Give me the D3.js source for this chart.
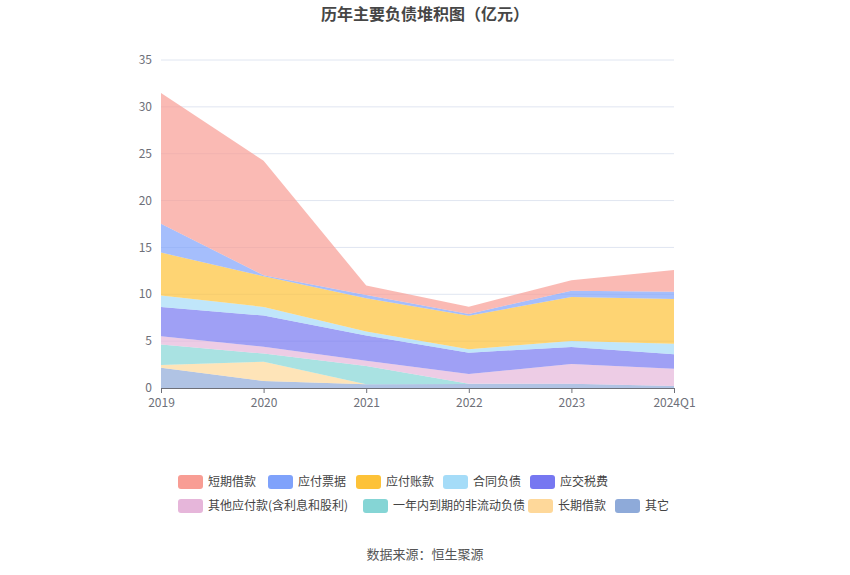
<!DOCTYPE html>
<html lang="zh">
<head>
<meta charset="UTF-8">
<title>历年主要负债堆积图</title>
<script src="https://d3js.org/d3.v7.min.js"></script>
<style>
    body { margin: 0; background: #fff; }
    svg { font-family: "Noto Sans CJK SC", "Noto Sans", sans-serif; }
</style>
</head>
<body>
<svg id="chart" width="850" height="575"></svg>
<script>
    // categories (x axis)
    const periods = ["2019", "2020", "2021", "2022", "2023", "2024Q1"];

    // series, bottom of the stack first
    const seriesNames = ["其它", "长期借款", "一年内到期的非流动负债", "其他应付款(含利息和股利)",
        "应交税费", "合同负债", "应付账款", "应付票据", "短期借款"];
    const other        = [2.17, 0.75, 0.39, 0.43, 0.45, 0.21];
    const longLoan     = [0.29, 2.06, 0.00, 0.00, 0.00, 0.00];
    const currentDue   = [2.17, 0.86, 1.96, 0.02, 0.00, 0.00];
    const otherPayable = [0.89, 0.74, 0.57, 1.04, 2.11, 1.85];
    const taxPayable   = [3.13, 3.32, 2.67, 2.28, 1.82, 1.53];
    const contractLiab = [1.21, 0.92, 0.43, 0.36, 0.64, 1.14];
    const accPayable   = [4.59, 3.28, 3.56, 3.59, 4.69, 4.77];
    const notesPayable = [3.07, 0.10, 0.35, 0.18, 0.68, 0.78];
    const shortLoan    = [13.95, 12.21, 1.00, 0.78, 1.10, 2.31];
    const seriesValues = [other, longLoan, currentDue, otherPayable, taxPayable,
        contractLiab, accPayable, notesPayable, shortLoan];

    const yTicks = [0, 5, 10, 15, 20, 25, 30, 35];

    // legend order as shown
    const legendOrder = ["短期借款", "应付票据", "应付账款", "合同负债", "应交税费",
        "其他应付款(含利息和股利)", "一年内到期的非流动负债", "长期借款", "其它"];

    const colors = {
        "短期借款": "#f89d94",
        "应付票据": "#7fa2fb",
        "应付账款": "#fdc238",
        "合同负债": "#a5dcf8",
        "应交税费": "#7677f1",
        "其他应付款(含利息和股利)": "#e6b6da",
        "一年内到期的非流动负债": "#85d5d5",
        "长期借款": "#fed89a",
        "其它": "#8eaad9"
    };

    const svg = d3.select("#chart");
    const plotLeft = 161, plotRight = 674, plotTop = 60, plotBottom = 388;

    const rows = periods.map((p, i) => {
        const r = { period: p };
        seriesNames.forEach((s, k) => r[s] = seriesValues[k][i]);
        return r;
    });
    const stacked = d3.stack().keys(seriesNames)(rows);

    const x = d3.scalePoint().domain(periods).range([plotLeft, plotRight]);
    const y = d3.scaleLinear().domain([0, 35]).range([plotBottom, plotTop]);

    // grid
    svg.append("g").selectAll("line")
        .data(yTicks.filter(d => d > 0))
        .enter().append("line")
        .attr("x1", plotLeft).attr("x2", plotRight)
        .attr("y1", d => y(d)).attr("y2", d => y(d))
        .attr("stroke", "#e0e6f1").attr("stroke-width", 1);

    // areas
    const area = d3.area()
        .x(d => x(d.data.period))
        .y0(d => y(d[0]))
        .y1(d => y(d[1]));

    svg.append("g").selectAll("path")
        .data(stacked)
        .enter().append("path")
        .attr("d", area)
        .attr("fill", d => colors[d.key])
        .attr("fill-opacity", 0.7)
        .attr("stroke", "none");

    // y labels
    svg.append("g").selectAll("text")
        .data(yTicks)
        .enter().append("text")
        .attr("x", plotLeft - 9)
        .attr("y", d => y(d))
        .attr("dy", "0.35em")
        .attr("text-anchor", "end")
        .attr("font-size", 12)
        .attr("fill", "#6e7079")
        .text(d => d);

    // x axis
    const xAxis = svg.append("g")
        .attr("transform", `translate(0,${plotBottom})`)
        .call(d3.axisBottom(x).tickSize(5).tickPadding(5))
    xAxis.select(".domain").attr("stroke", "#6e7079").attr("d", `M${plotLeft},0.5H${plotRight}`);
    xAxis.selectAll(".tick line").attr("stroke", "#6e7079");
    xAxis.selectAll(".tick text")
        .attr("font-size", 12)
        .attr("fill", "#6e7079")
        .attr("font-family", "'Noto Sans CJK SC', 'Noto Sans', sans-serif");

    // title
    svg.append("text")
        .attr("x", 425).attr("y", 20)
        .attr("text-anchor", "middle")
        .attr("font-size", 16)
        .attr("font-weight", "bold")
        .attr("fill", "#464646")
        .text("历年主要负债堆积图（亿元）");

    // legend
    const legendPos = [
        [178, 482], [268, 482], [356, 482], [443, 482], [530, 482],
        [178, 506], [363, 506], [528, 506], [615, 506]
    ];
    const lg = svg.append("g").selectAll("g")
        .data(legendOrder)
        .enter().append("g")
        .attr("transform", (d, i) => `translate(${legendPos[i][0]},${legendPos[i][1]})`);
    lg.append("rect")
        .attr("x", 0).attr("y", -7)
        .attr("width", 25).attr("height", 14)
        .attr("rx", 3)
        .attr("fill", d => colors[d]);
    lg.append("text")
        .attr("x", 30).attr("y", 0)
        .attr("dy", "0.35em")
        .attr("font-size", 12)
        .attr("fill", "#444")
        .text(d => d);

    // source
    svg.append("text")
        .attr("x", 425).attr("y", 559)
        .attr("text-anchor", "middle")
        .attr("font-size", 13)
        .attr("fill", "#555")
        .text("数据来源：恒生聚源");
</script>
</body>
</html>
